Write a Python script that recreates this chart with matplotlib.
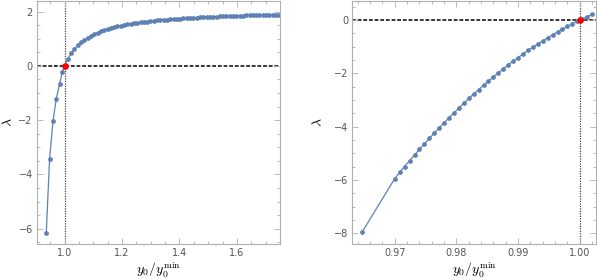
import numpy as np
import matplotlib
matplotlib.use('Agg')
import matplotlib.pyplot as plt
from matplotlib.ticker import MultipleLocator

# ---------------- data ----------------
# left panel
x_left = [0.9363, 0.9478, 0.9596, 0.9711, 0.9826, 0.9920,
          1.0000, 1.0115, 1.0230, 1.0345, 1.0460, 1.0575, 1.0690, 1.0805, 1.0920, 1.1035,
          1.1150, 1.1265, 1.1380, 1.1495, 1.1610, 1.1725, 1.1840, 1.1955, 1.2070, 1.2185,
          1.2300, 1.2415, 1.2530, 1.2645, 1.2760, 1.2875, 1.2990, 1.3105, 1.3220, 1.3335,
          1.3450, 1.3565, 1.3680, 1.3795, 1.3910, 1.4025, 1.4140, 1.4255, 1.4370, 1.4485,
          1.4600, 1.4715, 1.4830, 1.4945, 1.5060, 1.5175, 1.5290, 1.5405, 1.5520, 1.5635,
          1.5750, 1.5865, 1.5980, 1.6095, 1.6210, 1.6325, 1.6440, 1.6555, 1.6670, 1.6785,
          1.6900, 1.7015, 1.7130, 1.7245, 1.7360, 1.7475]
lam_left = [-6.15, -3.42, -2.04, -1.21, -0.66, -0.23,
            0.00, 0.261, 0.463, 0.626, 0.759, 0.870, 0.964, 1.045, 1.115, 1.176,
            1.230, 1.279, 1.322, 1.360, 1.396, 1.427, 1.457, 1.483, 1.508, 1.531,
            1.552, 1.571, 1.589, 1.606, 1.622, 1.637, 1.651, 1.664, 1.677, 1.688,
            1.700, 1.710, 1.720, 1.730, 1.739, 1.747, 1.755, 1.763, 1.771, 1.778,
            1.785, 1.791, 1.798, 1.804, 1.809, 1.815, 1.820, 1.825, 1.830, 1.835,
            1.840, 1.844, 1.849, 1.853, 1.857, 1.861, 1.865, 1.868, 1.872, 1.875,
            1.879, 1.882, 1.885, 1.888, 1.891, 1.894]

# right panel
x_right = [0.9647,
           0.9700, 0.9708, 0.9716, 0.9724, 0.9732, 0.9740, 0.9748, 0.9756, 0.9764, 0.9772,
           0.9780, 0.9788, 0.9796, 0.9804, 0.9812, 0.9820, 0.9828, 0.9836, 0.9844, 0.9852,
           0.9860, 0.9868, 0.9876, 0.9884, 0.9892, 0.9900, 0.9908, 0.9916, 0.9924, 0.9932,
           0.9940, 0.9948, 0.9956, 0.9964, 0.9972, 0.9980, 0.9988, 0.9996, 1.0004, 1.0012,
           1.0020]
lam_right = [-7.95,
             -5.94, -5.71, -5.49, -5.27, -5.06, -4.85, -4.64, -4.44, -4.24, -4.04,
             -3.85, -3.66, -3.48, -3.30, -3.12, -2.94, -2.77, -2.61, -2.44, -2.29,
             -2.13, -1.98, -1.83, -1.68, -1.54, -1.41, -1.27, -1.14, -1.02, -0.89,
             -0.78, -0.66, -0.55, -0.44, -0.34, -0.24, -0.14, -0.05, 0.04, 0.13,
             0.21]

crit_x = 1.0
crit_y = 0.0

# ---------------- style ----------------
plt.rcParams['mathtext.fontset'] = 'cm'
plt.rcParams['font.family'] = 'DejaVu Sans'
line_col = '#5E81B5'
frame_col = '#b0b0b0'
tick_lab_col = '#555555'

fig = plt.figure(figsize=(5.97, 2.79), dpi=100)
ax1 = fig.add_axes([0.062, 0.125, 0.407, 0.871])
ax2 = fig.add_axes([0.590, 0.125, 0.409, 0.871])


def style(ax, lab_x):
    for s in ax.spines.values():
        s.set_color(frame_col)
        s.set_linewidth(0.8)
    ax.tick_params(which='both', direction='in', top=True, right=True,
                   color=frame_col, labelcolor=tick_lab_col, labelsize=7, width=0.6)
    ax.tick_params(which='major', length=4, pad=3)
    ax.tick_params(which='minor', length=2)
    ax.set_xlabel(r'$y_0/y_0^{\mathrm{min}}$', fontsize=10, labelpad=2)
    ax.set_ylabel(r'$\lambda$', fontsize=10)
    ax.yaxis.set_label_coords(lab_x, 0.5)


for ax, xs, ys, lx in [(ax1, x_left, lam_left, -0.09), (ax2, x_right, lam_right, -0.11)]:
    ax.axhline(0, color='black', ls=(0, (2.5, 1.2)), lw=1.1, zorder=1)
    ax.axvline(crit_x, color='#444444', ls=(0, (1, 1)), lw=0.9, zorder=1)
    ax.plot(xs, ys, '-o', color=line_col, lw=0.9, ms=2.4, mec=line_col, zorder=2)
    ax.plot([crit_x], [crit_y], 'o', color='red', ms=3.8, zorder=3)
    style(ax, lx)

ax1.set_xlim(0.904, 1.75)
ax1.set_ylim(-6.57, 2.39)
ax1.xaxis.set_major_locator(MultipleLocator(0.2))
ax1.xaxis.set_minor_locator(MultipleLocator(0.05))
ax1.yaxis.set_major_locator(MultipleLocator(2))
ax1.yaxis.set_minor_locator(MultipleLocator(0.5))
ax1.xaxis.set_major_formatter(plt.FuncFormatter(lambda v, p: f'{v:.1f}'))

ax2.set_xlim(0.9631, 1.0027)
ax2.set_ylim(-8.4, 0.71)
ax2.xaxis.set_major_locator(MultipleLocator(0.01))
ax2.xaxis.set_minor_locator(MultipleLocator(0.002))
ax2.yaxis.set_major_locator(MultipleLocator(2))
ax2.yaxis.set_minor_locator(MultipleLocator(0.5))
ax2.xaxis.set_major_formatter(plt.FuncFormatter(lambda v, p: f'{v:.2f}'))

fig.savefig('out.png', dpi=100)
